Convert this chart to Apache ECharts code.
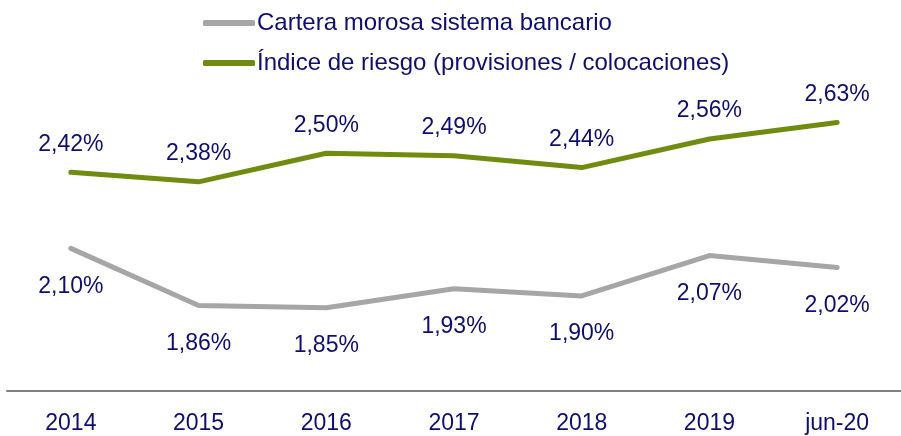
<!DOCTYPE html>
<html>
<head>
<meta charset="utf-8">
<script src="https://cdn.jsdelivr.net/npm/echarts@6/dist/echarts.min.js"></script>
<style>
  html, body { margin: 0; padding: 0; background: #fff; }
  #chart { width: 901px; height: 436px; }
</style>
</head>
<body>
<div id="chart"></div>
<script>
const categories = ['2014', '2015', '2016', '2017', '2018', '2019', 'jun-20'];
const carteraMorosa = [2.10, 1.86, 1.85, 1.93, 1.90, 2.07, 2.02];
const indiceRiesgo = [2.42, 2.38, 2.50, 2.49, 2.44, 2.56, 2.63];

const navy = '#0e0e6e';
const fmt = (p) => p.value.toFixed(2).replace('.', ',') + '%';

const chart = echarts.init(document.getElementById('chart'));
chart.setOption({
  backgroundColor: '#fff',
  animation: false,
  textStyle: { fontFamily: 'Liberation Sans, Arial, sans-serif' },
  legend: {
    orient: 'vertical',
    left: 198,
    top: 6,
    icon: 'roundRect',
    itemWidth: 52,
    itemHeight: 6,
    itemGap: 16,
    textStyle: { color: navy, fontSize: 24, lineHeight: 24, padding: [0, 0, 0, -3] },
    data: ['Cartera morosa sistema bancario', 'Índice de riesgo (provisiones / colocaciones)']
  },
  grid: { left: 7, right: -4, top: 82, bottom: 45 },
  xAxis: {
    type: 'category',
    data: categories,
    boundaryGap: true,
    axisLine: { lineStyle: { color: '#808080', width: 2 } },
    axisTick: { show: false },
    axisLabel: { color: navy, fontSize: 23, margin: 21 }
  },
  yAxis: {
    type: 'value',
    show: false,
    min: 1.5,
    max: 2.8,
    splitLine: { show: false }
  },
  series: [
    {
      name: 'Cartera morosa sistema bancario',
      type: 'line',
      data: carteraMorosa,
      symbol: 'circle',
      symbolSize: 1,
      lineStyle: { color: '#a6a6a6', width: 5, cap: 'round', join: 'round' },
      itemStyle: { color: '#a6a6a6' },
      label: {
        show: true,
        position: 'bottom',
        distance: 26,
        color: navy,
        fontSize: 23,
        formatter: fmt
      }
    },
    {
      name: 'Índice de riesgo (provisiones / colocaciones)',
      type: 'line',
      data: indiceRiesgo,
      symbol: 'circle',
      symbolSize: 1,
      lineStyle: { color: '#6f8c10', width: 5, cap: 'round', join: 'round' },
      itemStyle: { color: '#6f8c10' },
      label: {
        show: true,
        position: 'top',
        distance: 16,
        color: navy,
        fontSize: 23,
        formatter: fmt
      }
    }
  ]
});
</script>
</body>
</html>
